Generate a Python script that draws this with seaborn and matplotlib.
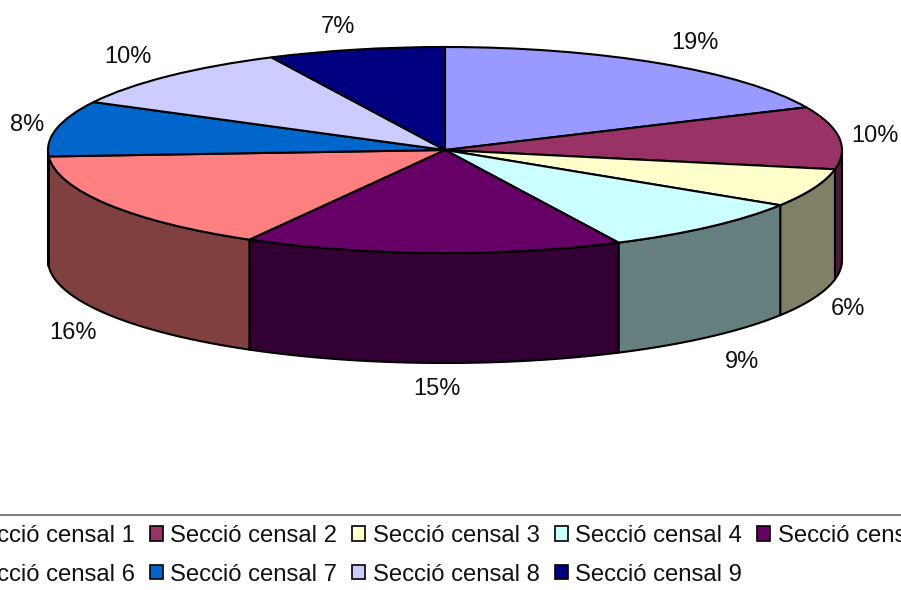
import numpy as np
import matplotlib
matplotlib.use("Agg")
import matplotlib.pyplot as plt
from matplotlib.colors import to_rgb
import seaborn as sns

categories = [f"Secció censal {i}" for i in range(1, 10)]
values = [18.2, 9.8, 6.0, 8.8, 15.4, 15.8, 8.7, 10.1, 7.2]
pct_labels = ["19%", "10%", "6%", "9%", "15%", "16%", "8%", "10%", "7%"]
colors = ["#9999FF", "#993366", "#FFFFCC", "#CCFFFF", "#660066",
          "#FF8080", "#0066CC", "#CCCCFF", "#000080"]

W, H = 901, 590
CX, CY, RX, RY, DEPTH = 445, 150, 397, 103, 110
label_px = [(695, 43), (875, 136), (848, 309), (742, 362), (437, 389),
            (73, 333), (27, 125), (128, 57), (338, 27)]

sns.set_theme(style="white")
plt.rcParams["font.family"] = ["Liberation Sans", "DejaVu Sans"]
palette = sns.color_palette(colors)

fig = plt.figure(figsize=(W / 100, H / 100), dpi=100, facecolor="white")
ax = fig.add_axes([0, 0, 1, 1])

# side walls of the disc (only the front half is visible)
depth = DEPTH / RY
edges = np.cumsum([0] + values) / sum(values) * 2 * np.pi
for i, col in enumerate(palette):
    a = max(edges[i], np.pi / 2)
    b = min(edges[i + 1], 3 * np.pi / 2)
    if b <= a:
        continue
    t = np.linspace(a, b, 80)
    xs = np.sin(t)
    ys = np.cos(t)
    ax.fill(np.r_[xs, xs[::-1]], np.r_[ys, ys[::-1] - depth],
            facecolor=np.array(to_rgb(col)) * 0.5, edgecolor="black",
            linewidth=1.5, joinstyle="round")

wedges, _ = ax.pie(values, colors=palette, startangle=90, counterclock=False,
                   wedgeprops=dict(edgecolor="black", linewidth=1.5))

ax.set_aspect("auto")
ax.set_xlim(-CX / RX, (W - CX) / RX)
ax.set_ylim((CY - H) / RY, CY / RY)
ax.axis("off")

for lab, (px, py) in zip(pct_labels, label_px):
    fig.text(px / W, 1 - py / H, lab, ha="center", va="center",
             fontsize=17, color="#111111")

# legend filled row by row; the box runs past the figure edges
order = [0, 5, 1, 6, 2, 7, 3, 8, 4]
FS = 17.2
leg = fig.legend([wedges[i] for i in order], [categories[i] for i in order],
                 ncol=5, loc="upper left",
                 bbox_to_anchor=(-63 / W, 1 - 515 / H),
                 fontsize=FS, frameon=True, fancybox=False, framealpha=1,
                 edgecolor="#808080", borderpad=0.42, borderaxespad=0,
                 handlelength=0.54, handleheight=0.54, handletextpad=0.33,
                 columnspacing=0.62, labelspacing=0.69, labelcolor="#111111")
leg.get_frame().set_linewidth(1.5)
for h in leg.legend_handles:
    h.set_edgecolor("black")
    h.set_linewidth(1.2)

fig.savefig("out.png", dpi=100, facecolor="white")
